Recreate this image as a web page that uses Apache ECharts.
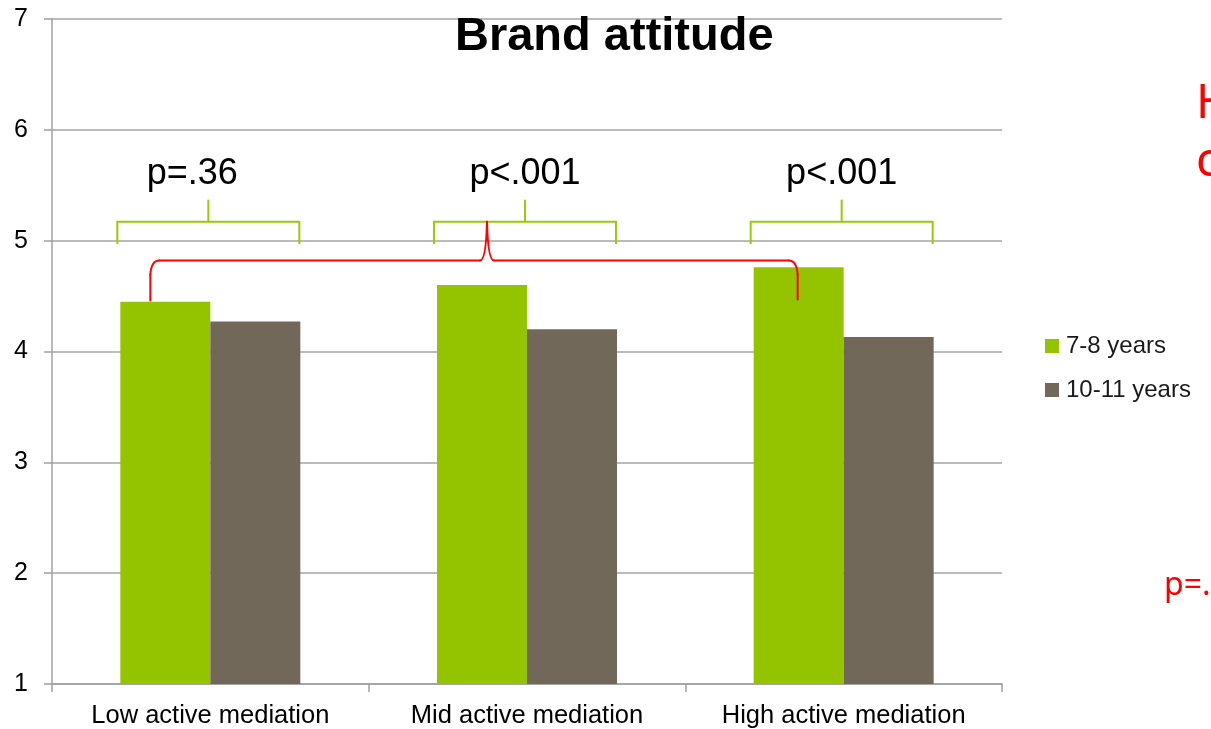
<!DOCTYPE html>
<html>
<head>
<meta charset="utf-8">
<script src="https://cdn.jsdelivr.net/npm/echarts@6/dist/echarts.min.js"></script>
<style>
  html, body { margin: 0; padding: 0; background: #ffffff; }
  #chart { width: 1211px; height: 729px; }
</style>
</head>
<body>
<div id="chart"></div>
<script>
// Brand attitude by level of active mediation, per age group
const categories = ['Low active mediation', 'Mid active mediation', 'High active mediation'];
const groupNames = ['7-8 years', '10-11 years'];
const youngValues = [4.45, 4.60, 4.76];
const olderValues = [4.27, 4.20, 4.13];
const pairTests = ['p=.36', 'p<.001', 'p<.001'];
const yMin = 1, yMax = 7, yStep = 1;

const GREEN = '#94c400';
const BROWN = '#72685a';
const BRACKET = '#99cc00';
const RED = '#ff0000';
const FONT = '"Liberation Sans", Arial, sans-serif';

const chart = echarts.init(document.getElementById('chart'), null, { renderer: 'canvas' });

chart.setOption({
  backgroundColor: '#ffffff',
  animation: false,
  title: {
    text: 'Brand attitude',
    left: 455,
    top: 14,
    padding: 0,
    textStyle: { fontFamily: FONT, fontSize: 47, fontWeight: 'bold', color: '#000000' }
  },
  legend: {
    orient: 'vertical',
    left: 1045,
    top: 334,
    padding: 0,
    itemWidth: 14,
    itemHeight: 14,
    itemGap: 20,
    icon: 'rect',
    data: groupNames,
    textStyle: { fontFamily: FONT, fontSize: 24, color: '#1a1a1a', padding: [0, 0, 0, 2] }
  },
  grid: { left: 52, right: 209, top: 19, bottom: 45 },
  xAxis: {
    type: 'category',
    data: categories,
    boundaryGap: true,
    axisLine: { lineStyle: { color: '#a0a0a0', width: 1.5 } },
    axisTick: { show: true, interval: 0, length: 8, lineStyle: { color: '#a0a0a0', width: 1.5 } },
    axisLabel: { interval: 0, hideOverlap: false, fontFamily: FONT, fontSize: 25.5, color: '#000000', margin: 19 },
    splitLine: { show: false }
  },
  yAxis: {
    type: 'value',
    min: yMin,
    max: yMax,
    interval: yStep,
    axisLine: { show: true, lineStyle: { color: '#a0a0a0', width: 1.5 } },
    axisTick: { show: true, length: 8, lineStyle: { color: '#a0a0a0', width: 1.5 } },
    axisLabel: { fontFamily: FONT, fontSize: 25, color: '#000000', margin: 24 },
    splitLine: { show: true, lineStyle: { color: '#a5a5a5', width: 1.5 } }
  },
  series: [
    {
      name: groupNames[0], type: 'bar', data: youngValues,
      barWidth: 90, barGap: '0%',
      itemStyle: { color: GREEN }
    },
    {
      name: groupNames[1], type: 'bar', data: olderValues,
      barWidth: 90, barGap: '0%',
      itemStyle: { color: BROWN }
    }
  ]
});

// Annotations placed through the chart's own scales
function px(catIndex, value) {
  return chart.convertToPixel({ gridIndex: 0 }, [catIndex, value]);
}

const graphics = [];

// Green brackets with the within-level test result above each pair of bars
categories.forEach((c, i) => {
  const [cx] = px(i, 5);
  const mid = cx - 2;
  const half = 91;
  const yFoot = px(i, 4.97)[1];
  const yBar = px(i, 5.17)[1];
  const yStem = px(i, 5.37)[1];
  graphics.push({
    type: 'polyline', z: 100,
    shape: { points: [[mid - half, yFoot], [mid - half, yBar], [mid + half, yBar], [mid + half, yFoot]] },
    style: { stroke: BRACKET, lineWidth: 2, fill: null }
  });
  graphics.push({
    type: 'line', z: 100,
    shape: { x1: mid, y1: yBar, x2: mid, y2: yStem },
    style: { stroke: BRACKET, lineWidth: 2 }
  });
  const labelX = i === 0 ? mid - 16 : mid;
  graphics.push({
    type: 'text', z: 100,
    x: labelX,
    y: px(i, 5.6)[1],
    style: {
      text: pairTests[i], fill: '#000000',
      font: '36px ' + FONT, textAlign: 'center', textVerticalAlign: 'middle'
    }
  });
});

// Red brace joining the 7-8 years bars of the low and high levels
(function () {
  const [lowX] = px(0, 0);
  const [midX] = px(1, 0);
  const [highX] = px(2, 0);
  const x0 = lowX - 60, y0 = px(0, 4.46)[1];
  const x1 = highX - 46, y1 = px(2, 4.47)[1];
  const yh = px(1, 4.82)[1];
  const xp = midX - 40, yp = px(1, 5.17)[1];
  const st = { stroke: RED, lineWidth: 2, fill: null, lineCap: 'round' };
  const seg = (a, b, c, d) => ({ type: 'line', z: 101, shape: { x1: a, y1: b, x2: c, y2: d }, style: st });
  const curve = (a, b, cxp, cyp, c, d) => ({
    type: 'bezierCurve', z: 101, shape: { x1: a, y1: b, cpx1: cxp, cpy1: cyp, x2: c, y2: d }, style: st
  });
  graphics.push(seg(x0, y0, x0, yh + 14));
  graphics.push(curve(x0, yh + 14, x0 + 1, yh, x0 + 9, yh));
  graphics.push(seg(x0 + 9, yh, xp - 7, yh));
  graphics.push(curve(xp - 7, yh, xp - 1, yh, xp, yp));
  graphics.push(curve(xp, yp, xp + 1, yh, xp + 7, yh));
  graphics.push(seg(xp + 7, yh, x1 - 9, yh));
  graphics.push(curve(x1 - 9, yh, x1 - 1, yh, x1, yh + 14));
  graphics.push(seg(x1, yh + 14, x1, y1));
})();

// Side notes in red at the right edge
const NOTE_FONT = '"Noto Sans", "Open Sans", sans-serif';
graphics.push({
  type: 'text', z: 100, x: 1196, y: 105,
  style: { text: 'H', fill: RED, font: '47px ' + NOTE_FONT, textAlign: 'left', textVerticalAlign: 'middle' }
});
graphics.push({
  type: 'text', z: 100, x: 1196, y: 163,
  style: { text: 'c', fill: RED, font: '47px ' + NOTE_FONT, textAlign: 'left', textVerticalAlign: 'middle' }
});
graphics.push({
  type: 'text', z: 100, x: 1164, y: 586,
  style: { text: 'p=.', fill: RED, font: '32px ' + NOTE_FONT, textAlign: 'left', textVerticalAlign: 'middle' }
});

chart.setOption({ graphic: graphics });
</script>
</body>
</html>
